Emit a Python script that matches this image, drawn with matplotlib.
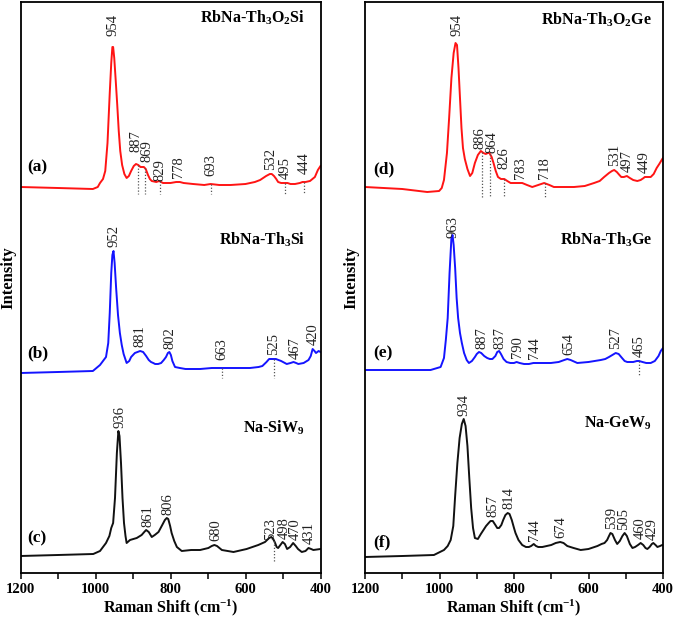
import numpy as np
import matplotlib
matplotlib.use("Agg")
import matplotlib.pyplot as plt

plt.rcParams["font.family"] = ["Liberation Serif", "DejaVu Serif"]
plt.rcParams["mathtext.fontset"] = "custom"
plt.rcParams["mathtext.rm"] = "Liberation Serif:bold"
plt.rcParams["mathtext.it"] = "Liberation Serif:bold"
plt.rcParams["mathtext.bf"] = "Liberation Serif:bold"

# Raman spectra (wavenumber in cm-1, intensity in a.u.)
WN_A = [1200, 1100, 1007, 994, 988, 980, 974, 968, 962, 958, 955, 953, 950, 946, 942, 938,
        934, 929, 923, 917, 911, 905, 898, 892, 886, 880, 875, 871, 866, 860, 855, 850,
        838, 830, 820, 800, 785, 775, 765, 740, 710, 693, 670, 640, 600, 575, 561, 545,
        535, 530, 524, 518, 513, 505, 495, 488, 480, 468, 455, 448, 440, 428, 415, 407, 400]
INT_A = [6, 5, 4, 6, 10, 14, 22, 50, 100, 130, 146, 146, 135, 112, 88, 62,
         42, 28, 19, 15, 17, 22, 27, 29, 28, 26, 26, 26, 24, 18, 14, 12,
         11, 12, 10, 10, 11, 11, 10, 9, 8, 9, 8, 8, 9, 11, 13, 17,
         19, 19, 17, 14, 11, 10, 10, 10, 9, 9, 10, 11, 11, 12, 16, 23, 27]

WN_B = [1200, 1100, 1007, 988, 978, 972, 966, 962, 958, 955, 952, 949, 945, 940, 935, 930,
        925, 917, 910, 905, 895, 888, 881, 873, 865, 858, 852, 846, 841, 833, 825, 818,
        812, 807, 803, 799, 795, 788, 775, 760, 721, 690, 663, 630, 588, 565, 555, 544,
        537, 528, 519, 512, 505, 490, 480, 472, 465, 459, 445, 432, 426, 421, 416, 412, 405, 400]
INT_B = [0, 1, 2, 8, 13, 16, 30, 60, 100, 118, 122, 110, 85, 58, 40, 28,
         19, 10, 12, 16, 20, 21, 22, 21, 17, 13, 11, 10, 9, 9, 10, 13,
         16, 20, 21, 18, 12, 6, 5, 4, 4, 5, 5, 5, 5, 6, 7, 11,
         14, 14, 14, 13, 12, 9, 10, 11, 10, 9, 10, 13, 17, 24, 22, 20, 22, 21]

WN_C = [1200, 1100, 1006, 988, 972, 963, 958, 953, 948, 943, 939, 936, 932, 928, 924, 920,
        917, 908, 890, 877, 870, 865, 858, 850, 842, 832, 822, 815, 810, 806, 801, 797,
        790, 783, 770, 745, 721, 699, 690, 683, 676, 663, 632, 597, 566, 548, 537, 531,
        526, 521, 517, 513, 507, 501, 495, 489, 481, 473, 466, 460, 450, 440, 432, 425, 419, 400]
INT_C = [2, 3, 4, 7, 15, 22, 30, 35, 60, 105, 127, 122, 95, 60, 35, 22,
         15, 18, 20, 23, 26, 28, 26, 21, 23, 26, 33, 38, 40, 39, 32, 25,
         17, 11, 7, 8, 8, 10, 12, 13, 12, 8, 6, 9, 13, 16, 20, 21,
         19, 15, 11, 10, 13, 16, 14, 9, 11, 15, 12, 9, 6, 7, 10, 9, 8, 9]

WN_D = [1200, 1100, 1033, 1001, 994, 988, 980, 974, 968, 962, 957, 953, 949, 945, 941, 937,
        932, 925, 918, 912, 905, 897, 889, 882, 876, 870, 866, 860, 855, 849, 843, 835,
        826, 818, 809, 795, 778, 765, 751, 735, 719, 705, 693, 660, 639, 610, 585, 570,
        558, 545, 537, 531, 524, 517, 512, 505, 497, 489, 480, 469, 460, 452, 449, 441,
        433, 425, 417, 410, 402, 400]
INT_D = [6, 4, 1, 2, 5, 13, 40, 76, 115, 140, 150, 148, 125, 95, 65, 45,
         34, 24, 17, 20, 30, 38, 42, 40, 39, 40, 40, 36, 30, 22, 16, 14,
         14, 12, 10, 10, 10, 8, 6, 8, 10, 8, 6, 6, 6, 7, 10, 12,
         16, 20, 22, 23, 21, 18, 16, 16, 17, 15, 13, 12, 13, 15, 16, 16,
         16, 19, 25, 29, 34, 35]

WN_E = [1200, 1100, 1024, 997, 988, 983, 978, 973, 968, 965, 962, 958, 954, 950, 945, 940,
        934, 927, 921, 913, 905, 900, 894, 888, 880, 872, 865, 858, 850, 845, 840, 835,
        828, 820, 810, 800, 793, 785, 773, 760, 748, 730, 701, 680, 665, 657, 648, 630,
        600, 567, 555, 545, 536, 527, 519, 510, 503, 496, 480, 470, 464, 455, 445, 433,
        422, 412, 406, 400]
INT_E = [3, 3, 3, 6, 15, 33, 55, 100, 135, 138, 128, 105, 75, 55, 40, 30,
         20, 13, 10, 12, 16, 19, 21, 20, 17, 15, 14, 14, 17, 21, 22, 19,
         14, 11, 10, 10, 11, 10, 9, 9, 10, 10, 10, 11, 13, 14, 13, 10,
         11, 13, 14, 16, 18, 20, 19, 15, 12, 11, 11, 12, 12, 11, 10, 10,
         12, 17, 22, 25]

WN_F = [1200, 1100, 1015, 988, 978, 970, 963, 958, 952, 946, 940, 935, 930, 925, 920, 915,
        910, 905, 897, 889, 882, 875, 868, 863, 857, 850, 845, 840, 834, 829, 823, 817,
        812, 806, 800, 796, 788, 778, 768, 760, 754, 747, 741, 735, 724, 712, 700, 688,
        676, 667, 657, 640, 621, 600, 576, 565, 557, 550, 545, 541, 536, 529, 523, 516,
        509, 503, 497, 489, 482, 475, 467, 460, 453, 447, 442, 436, 430, 426, 420, 415,
        408, 402, 400]
INT_F = [1, 2, 3, 8, 12, 18, 32, 62, 95, 120, 134, 139, 132, 112, 80, 50,
         30, 20, 19, 24, 28, 32, 35, 37, 37, 33, 30, 30, 33, 38, 43, 45,
         44, 38, 30, 25, 18, 13, 11, 11, 12, 14, 12, 11, 11, 12, 13, 15,
         16, 15, 12, 10, 8, 9, 12, 14, 15, 18, 22, 25, 24, 18, 14, 17,
         22, 25, 22, 14, 10, 11, 13, 15, 13, 10, 9, 11, 14, 15, 13, 11,
         12, 13, 13]

# peak labels and which of them carry a dotted guide line
PEAKS_A = [954, 887, 869, 829, 778, 693, 532, 495, 444]
DOTTED_A = [887, 869, 829, 693, 495, 444]
PEAKS_B = [952, 881, 802, 663, 525, 467, 420]
DOTTED_B = [663, 525]
PEAKS_C = [936, 861, 806, 680, 523, 498, 470, 431]
DOTTED_C = [523]
PEAKS_D = [954, 886, 864, 826, 783, 718, 531, 497, 449]
DOTTED_D = [886, 864, 826, 718]
PEAKS_E = [963, 887, 837, 790, 744, 654, 527, 465]
DOTTED_E = [465]
PEAKS_F = [934, 857, 814, 744, 674, 539, 505, 460, 429]
DOTTED_F = []

NAMES_LEFT = [r"RbNa-Th$_3$O$_2$Si", r"RbNa-Th$_3$Si", r"Na-SiW$_9$"]
NAMES_RIGHT = [r"RbNa-Th$_3$O$_2$Ge", r"RbNa-Th$_3$Ge", r"Na-GeW$_9$"]
TAGS_LEFT = ["(a)", "(b)", "(c)"]
TAGS_RIGHT = ["(d)", "(e)", "(f)"]

COLORS = ["#ff1414", "#1414ff", "#111111"]
OFFSETS = [380, 200, 15]

# label nudges in points (dx, dy) for crowded labels; default lift is 3 pt
NUDGE = {
    ("a", 954): (0, 8), ("a", 887): (-1.5, 9), ("a", 869): (2, 4),
    ("a", 829): (0, 0), ("a", 693): (0, 6), ("a", 444): (0, 6),
    ("b", 663): (0, 6),
    ("c", 936): (0, 6), ("c", 523): (-2.5, 1), ("c", 470): (1, 3), ("c", 431): (0.5, 3),
    ("d", 954): (0, 6), ("d", 886): (-1.5, 2), ("d", 864): (1.5, 1), ("d", 826): (0, 7),
}


def draw_spectrum(ax, key, wn, inten, offset, color, peaks, dotted):
    wn = np.asarray(wn, dtype=float)
    y = np.asarray(inten, dtype=float) + offset
    ax.plot(wn, y, color=color, lw=1.4, solid_joinstyle="round")
    # np.interp wants increasing x
    xs, ys = wn[::-1], y[::-1]
    bottom = y.min() - 5
    for p in peaks:
        yc = np.interp(p, xs, ys)
        dx, dy = NUDGE.get((key, p), (0, 3))
        ax.annotate(str(p), xy=(p, yc), xytext=(dx, dy), textcoords="offset points",
                    rotation=90, ha="center", va="bottom", fontsize=10.5, color="#222222")
        if p in dotted:
            ax.plot([p, p], [yc, bottom], ls=(0, (1, 1.5)), lw=0.9, color="#555555")


def style_axis(ax, label_x, label_y):
    ax.set_xlim(1200, 400)
    ax.set_ylim(0, 571)
    ax.set_yticks([])
    ax.set_xticks([1200, 1000, 800, 600, 400])
    ax.set_xticks([1100, 900, 700, 500], minor=True)
    ax.tick_params(axis="x", which="both", direction="out", length=4, width=1.1, pad=3)
    for lbl in ax.get_xticklabels():
        lbl.set_fontweight("bold")
        lbl.set_fontsize(10.5)
    for s in ax.spines.values():
        s.set_linewidth(1.3)
    ax.set_xlabel(r"Raman Shift (cm$^{-1}$)", fontsize=11.5, fontweight="bold", labelpad=1)
    ax.set_ylabel("Intensity", fontsize=12, fontweight="bold")
    ax.yaxis.set_label_coords(label_x, label_y)


fig = plt.figure(figsize=(6.74, 6.23), dpi=100)
ax_l = fig.add_axes([20.5 / 674, 50 / 623, 300 / 674, 571 / 623])
ax_r = fig.add_axes([365 / 674, 50 / 623, 298 / 674, 571 / 623])

left = [("a", WN_A, INT_A, PEAKS_A, DOTTED_A), ("b", WN_B, INT_B, PEAKS_B, DOTTED_B),
        ("c", WN_C, INT_C, PEAKS_C, DOTTED_C)]
right = [("d", WN_D, INT_D, PEAKS_D, DOTTED_D), ("e", WN_E, INT_E, PEAKS_E, DOTTED_E),
         ("f", WN_F, INT_F, PEAKS_F, DOTTED_F)]

for i, (key, wn, inten, peaks, dotted) in enumerate(left):
    draw_spectrum(ax_l, key, wn, inten, OFFSETS[i], COLORS[i], peaks, dotted)
for i, (key, wn, inten, peaks, dotted) in enumerate(right):
    draw_spectrum(ax_r, key, wn, inten, OFFSETS[i], COLORS[i], peaks, dotted)

style_axis(ax_l, -0.014, 0.518)
style_axis(ax_r, -0.020, 0.518)

# panel tags and compound names (axes fractions)
tag_y_l = [0.711, 0.385, 0.061]
tag_y_r = [0.706, 0.385, 0.054]
name_y_l = [0.972, 0.583, 0.254]
name_y_r = [0.968, 0.583, 0.263]
for i in range(3):
    ax_l.text(0.022, tag_y_l[i], TAGS_LEFT[i], transform=ax_l.transAxes,
              fontsize=12.5, fontweight="bold", va="center", ha="left")
    ax_r.text(0.027, tag_y_r[i], TAGS_RIGHT[i], transform=ax_r.transAxes,
              fontsize=12.5, fontweight="bold", va="center", ha="left")
    ax_l.text(0.948, name_y_l[i], NAMES_LEFT[i], transform=ax_l.transAxes,
              fontsize=11.5, fontweight="bold", va="center", ha="right")
    ax_r.text(0.963, name_y_r[i], NAMES_RIGHT[i], transform=ax_r.transAxes,
              fontsize=11.5, fontweight="bold", va="center", ha="right")

fig.savefig("out.png", dpi=100)
